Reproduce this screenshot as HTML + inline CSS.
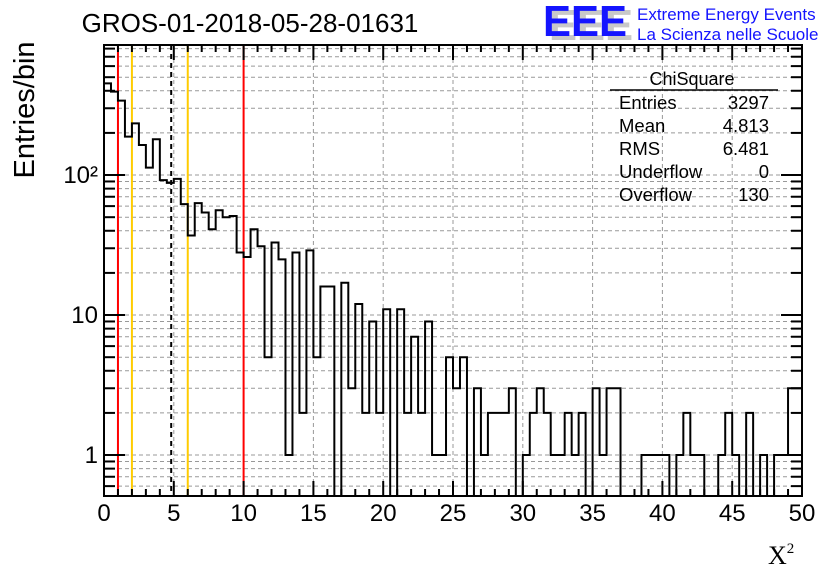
<!DOCTYPE html>
<html><head><meta charset="utf-8"><style>
body{margin:0;background:#fff;}
svg{display:block;font-family:"Liberation Sans",sans-serif;}
</style></head><body>
<svg id="chart" width="836" height="572" viewBox="0 0 836 572">
<rect width="836" height="572" fill="#fff"/>
<text x="250" y="32" font-size="26" text-anchor="middle">GROS-01-2018-05-28-01631</text>
<g>
<text x="549" y="40" font-size="44" font-weight="bold" fill="#c8c8c8" textLength="84" lengthAdjust="spacingAndGlyphs">EEE</text>
<text x="543" y="36" font-size="44" font-weight="bold" fill="#1414ff" textLength="84" lengthAdjust="spacingAndGlyphs">EEE</text>
<text x="637" y="20" font-size="17" fill="#1414ff">Extreme Energy Events</text>
<text x="637" y="40" font-size="17" fill="#1414ff">La Scienza nelle Scuole</text>
</g>
<g id="grid"></g>
<g id="vlines"></g>
<path id="hist" fill="none" stroke="#000" stroke-width="2"/>
<rect x="104" y="45" width="698" height="451" fill="none" stroke="#000" stroke-width="2"/>
<g id="ticks"></g>
<text transform="translate(34,110) rotate(-90)" font-size="29" text-anchor="middle">Entries/bin</text>
<text x="768" y="564" font-size="26" font-family="Liberation Serif,serif">X<tspan font-size="15" dy="-11">2</tspan></text>
<g font-size="18.5">
<text x="692" y="85" text-anchor="middle" font-size="18">ChiSquare</text>
<line x1="610" y1="90" x2="778" y2="90" stroke="#000" stroke-width="1.5"/>
<text x="619" y="109">Entries</text><text x="769" y="109" text-anchor="end">3297</text>
<text x="619" y="132">Mean</text><text x="769" y="132" text-anchor="end">4.813</text>
<text x="619" y="155">RMS</text><text x="769" y="155" text-anchor="end">6.481</text>
<text x="619" y="178">Underflow</text><text x="769" y="178" text-anchor="end">0</text>
<text x="619" y="201">Overflow</text><text x="769" y="201" text-anchor="end">130</text>
</g>
</svg>
<script>
const binEdgesStart = 0;
const binWidth = 0.5;
const counts = [452,394,340,188,234,164,113,180,92,88,94,62,37,63,54,41,56,50,51,28,
26,41,31,5,33,25,1,28,2,29,5,16,16,0,17,3,12,2,9,2,
11,0,11,2,7,2,9,1,1,5,3,5,0,3,1,2,2,2,3,0,
1,2,3,2,1,1,2,1,2,0,3,1,3,3,0,0,0,1,1,1,
1,0,1,2,1,1,0,0,1,2,1,0,2,0,1,0,1,1,3,3];
const xTickLabels = [0,5,10,15,20,25,30,35,40,45,50];
const yTickValues = [1,10,100];
const yTickLabels = ["1","10","10²"];
const redLines = [1,10];
const orangeLines = [2,6];
const meanLine = [4.813];

const NS="http://www.w3.org/2000/svg";
const X0=104,X1=802,Y0=496,Y1=45,xmin=0,xmax=50,ymin=0.51,ymax=849;
function sx(v){return X0+(v-xmin)/(xmax-xmin)*(X1-X0);}
function sy(v){if(v<=0)return Y0;const t=(Math.log10(v)-Math.log10(ymin))/(Math.log10(ymax)-Math.log10(ymin));return Math.max(Y1,Math.min(Y0,Y0-t*(Y0-Y1)));}
function mk(tag,attrs,parent){const e=document.createElementNS(NS,tag);for(const k in attrs)e.setAttribute(k,attrs[k]);parent.appendChild(e);return e;}
const grid=document.getElementById('grid'),ticks=document.getElementById('ticks'),vl=document.getElementById('vlines');
for(let d=-1;d<=2;d++)for(let m=1;m<=9;m++){const v=m*Math.pow(10,d);if(v<ymin||v>ymax)continue;const y=sy(v);
 const g=mk('line',{x1:X0,x2:X1,y1:y,y2:y,stroke:'#999','stroke-dasharray':'4,3','stroke-width':1},grid);
 
 
 const len=(m===1)?21:11;
 const t1=mk('line',{x1:X0,x2:X0+len,y1:y,y2:y,stroke:'#000','stroke-width':2},ticks);
 
 
 const t2=mk('line',{x1:X1,x2:X1-len,y1:y,y2:y,stroke:'#000','stroke-width':2},ticks);
 
 
}
yTickValues.forEach((v,i)=>{const t=mk('text',{x:X0-6,y:sy(v)+8,'font-size':24,'text-anchor':'end'},ticks);t.textContent=yTickLabels[i];
 
 });
xTickLabels.forEach(v=>{const x=sx(v);
 if(v>xmin&&v<xmax){const g=mk('line',{x1:x,x2:x,y1:Y1,y2:Y0,stroke:'#999','stroke-dasharray':'4,3','stroke-width':1},grid);
 
 }
 const t=mk('text',{x:x,y:521,'font-size':24,'text-anchor':'middle'},ticks);t.textContent=v;
 
 });
for(let v=xmin;v<=xmax;v++){const x=sx(v);const len=(v%5===0)?15:7;
 const a=mk('line',{x1:x,x2:x,y1:Y0,y2:Y0-len,stroke:'#000','stroke-width':2},ticks);
 
 
 const b=mk('line',{x1:x,x2:x,y1:Y1,y2:Y1+len,stroke:'#000','stroke-width':2},ticks);
 
 }
function vline(v,color,dash,name){const x=sx(v);const l=mk('line',{x1:x,x2:x,y1:Y1,y2:Y0,stroke:color,'stroke-width':2},vl);if(dash)l.setAttribute('stroke-dasharray',dash);
 
 }
redLines.forEach(v=>vline(v,'#ff0000',null,'red-threshold-line'));
orangeLines.forEach(v=>vline(v,'#ffcc00',null,'orange-threshold-line'));
meanLine.forEach(v=>vline(v,'#000','5,4','mean-line'));
let d='';
counts.forEach((c,i)=>{const xa=sx(binEdgesStart+i*binWidth),xb=sx(binEdgesStart+(i+1)*binWidth),y=sy(c);
 d+=(i===0?'M'+xa+','+y:'L'+xa+','+y)+' L'+xb+','+y+' ';});
document.getElementById('hist').setAttribute('d',d);
</script>
</body></html>
